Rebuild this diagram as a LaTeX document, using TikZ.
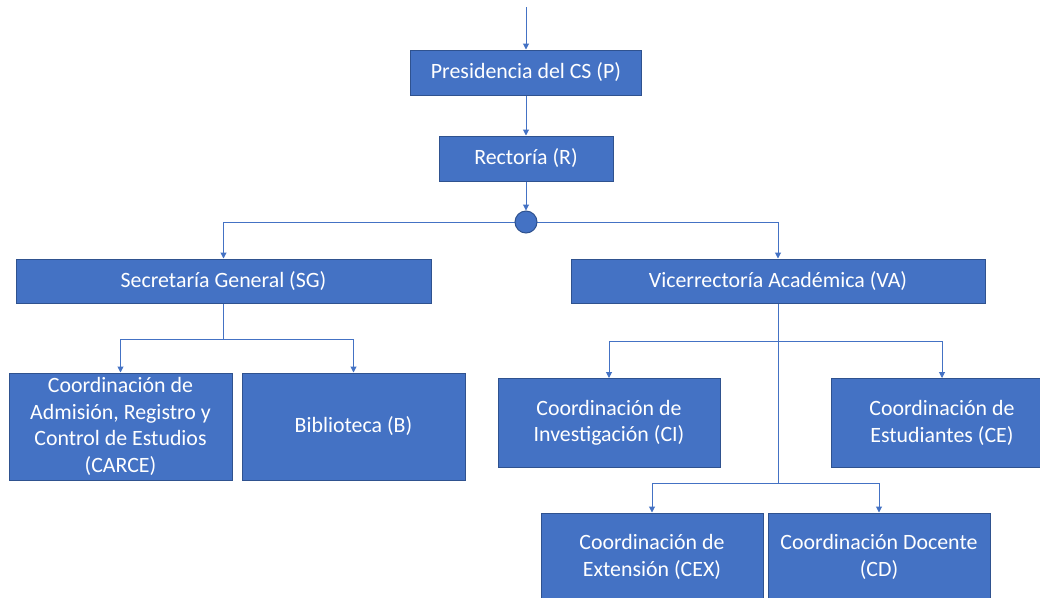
\documentclass[tikz,border=0pt]{standalone}
\usepackage{fontspec}
\setmainfont{Carlito}
\usetikzlibrary{arrows.meta,backgrounds}
\definecolor{boxfill}{HTML}{4472C4}
\definecolor{boxline}{HTML}{2F528F}
\definecolor{conn}{HTML}{4472C4}
\begin{document}
\begin{tikzpicture}[x=0.75pt,y=-0.75pt,
  box/.style={draw=boxline, line width=0.75pt, fill=boxfill, text=white, align=center,
    inner sep=0pt, font=\fontsize{16.4}{19.8}\selectfont},
  link/.style={draw=conn, line width=0.75pt},
  arr/.style={link, -{Triangle[length=4.5pt,width=4.5pt]}}]
\useasboundingbox (0,0) rectangle (1040,597);
\node[box, minimum width=231*0.75pt, minimum height=45*0.75pt] (P) at (526,72.5) {Presidencia del CS (P)};
\node[box, minimum width=174*0.75pt, minimum height=45*0.75pt] (R) at (526,158.5) {Rectoría (R)};
\node[circle, draw=boxline, line width=0.75pt, fill=boxfill, minimum size=22*0.75pt, inner sep=0pt] (C) at (526,222) {};
\node[box, minimum width=415*0.75pt, minimum height=44*0.75pt] (SG) at (223.5,281) {Secretaría General (SG)};
\node[box, minimum width=414*0.75pt, minimum height=44*0.75pt] (VA) at (778,281) {Vicerrectoría Académica (VA)};
\node[box, minimum width=223*0.75pt, minimum height=107*0.75pt] (CARCE) at (120.5,426.5) {Coordinación de\\Admisión, Registro y\\Control de Estudios\\(CARCE)};
\node[box, minimum width=223*0.75pt, minimum height=107*0.75pt] (B) at (353.5,426.5) {Biblioteca (B)};
\node[box, minimum width=222*0.75pt, minimum height=89*0.75pt] (CI) at (609,423) {Coordinación de\\Investigación (CI)};
\node[box, minimum width=222*0.75pt, minimum height=89*0.75pt] (CE) at (942,423) {Coordinación de\\Estudiantes (CE)};
\node[box, minimum width=222*0.75pt, minimum height=88*0.75pt] (CEX) at (652,557) {Coordinación de\\Extensión (CEX)};
\node[box, minimum width=222*0.75pt, minimum height=88*0.75pt] (CD) at (879,557) {Coordinación Docente\\(CD)};
\coordinate (top) at (526,7);
\coordinate (sgj) at (223.5,339);
\coordinate (vaj1) at (778,341);
\coordinate (vaj2) at (778,483);
\begin{scope}[on background layer]
\draw[arr] (top) -- (P.north);
\draw[arr] (P.south) -- (R.north);
\draw[arr] (R.south) -- (C.north);
\draw[arr] (C.center) -| (SG.north);
\draw[arr] (C.center) -| (VA.north);
\draw[link] (SG.south) -- (sgj);
\draw[arr] (sgj) -| (CARCE.north);
\draw[arr] (sgj) -| (B.north);
\draw[link] (VA.south) -- (vaj2);
\draw[arr] (vaj1) -| (CI.north);
\draw[arr] (vaj1) -| (CE.north);
\draw[arr] (vaj2) -| (CEX.north);
\draw[arr] (vaj2) -| (CD.north);
\end{scope}
\end{tikzpicture}
\end{document}
